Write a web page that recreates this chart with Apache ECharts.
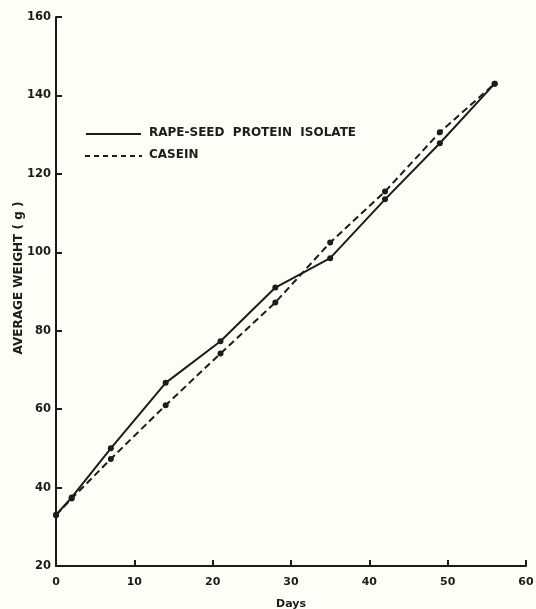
<!DOCTYPE html>
<html>
<head>
<meta charset="utf-8">
<script src="https://cdn.jsdelivr.net/npm/echarts@6/dist/echarts.min.js"></script>
<style>
  html, body { margin: 0; padding: 0; background: #fefef9; }
  #chart { width: 536px; height: 609px; }
</style>
</head>
<body>
<div id="chart"></div>
<script>
// values
const days = [0, 2, 7, 14, 21, 28, 35, 42, 49, 56];
const rapeSeed = [33, 37.5, 50, 66.7, 77.3, 91, 98.5, 113.5, 127.8, 143];
const casein = [33, 37.2, 47.3, 61, 74.2, 87.2, 102.5, 115.5, 130.6, 143];

const xTicks = [0, 10, 20, 30, 40, 50, 60];
const yTicks = [20, 40, 60, 80, 100, 120, 140, 160];

const seriesNames = ["RAPE-SEED PROTEIN ISOLATE", "CASEIN"];
const yTitle = "AVERAGE WEIGHT ( g )";

const ink = "#1c1c1a";
const font = "DejaVu Sans";

const pairs = (xs, ys) => xs.map((x, i) => [x, ys[i]]);

const chart = echarts.init(document.getElementById("chart"));

chart.setOption({
  backgroundColor: "#fefef9",
  animation: false,
  grid: { left: 56, right: 10, top: 17, bottom: 43, outerBoundsMode: "none", containLabel: false },
  xAxis: {
    type: "value",
    min: xTicks[0],
    max: xTicks[xTicks.length - 1],
    interval: 10,
    name: "Days",
    nameLocation: "middle",
    nameGap: 33,
    nameTextStyle: { color: ink, fontFamily: font, fontWeight: "bold", fontSize: 11 },
    axisLine: { lineStyle: { color: ink, width: 2 } },
    axisTick: { inside: true, length: 6, lineStyle: { color: ink, width: 2 } },
    axisLabel: { color: ink, fontFamily: font, fontWeight: "bold", fontSize: 11, margin: 11 },
    splitLine: { show: false },
  },
  yAxis: {
    type: "value",
    min: yTicks[0],
    max: yTicks[yTicks.length - 1],
    interval: 20,
    axisLine: { show: true, lineStyle: { color: ink, width: 2 } },
    axisTick: { show: true, inside: true, length: 6, lineStyle: { color: ink, width: 2 } },
    axisLabel: { color: ink, fontFamily: font, fontWeight: "bold", fontSize: 11.5, margin: 5 },
    splitLine: { show: false },
  },
  series: [
    {
      name: seriesNames[0],
      type: "line",
      data: pairs(days, rapeSeed),
      symbol: "circle",
      symbolSize: 6,
      lineStyle: { color: ink, width: 2 },
      itemStyle: { color: ink },
    },
    {
      name: seriesNames[1],
      type: "line",
      data: pairs(days, casein),
      symbol: "circle",
      symbolSize: 6,
      lineStyle: { color: ink, width: 2, type: [7, 4] },
      itemStyle: { color: ink },
    },
  ],
  graphic: [
    {
      type: "text", x: 19, y: 278, rotation: Math.PI / 2,
      style: { text: yTitle, fill: ink, font: "bold 12px " + font, align: "center", verticalAlign: "middle" },
    },
    { type: "line", shape: { x1: 86, y1: 134, x2: 141, y2: 134 }, style: { stroke: ink, lineWidth: 2 } },
    { type: "line", shape: { x1: 85, y1: 156, x2: 142, y2: 156 }, style: { stroke: ink, lineWidth: 2, lineDash: [5, 4] } },
    {
      type: "text", left: 149, top: 127,
      style: { text: "RAPE-SEED  PROTEIN  ISOLATE", fill: ink, font: "bold 12px " + font },
    },
    {
      type: "text", left: 149, top: 149,
      style: { text: seriesNames[1], fill: ink, font: "bold 12px " + font },
    },
  ],
});
</script>
</body>
</html>
